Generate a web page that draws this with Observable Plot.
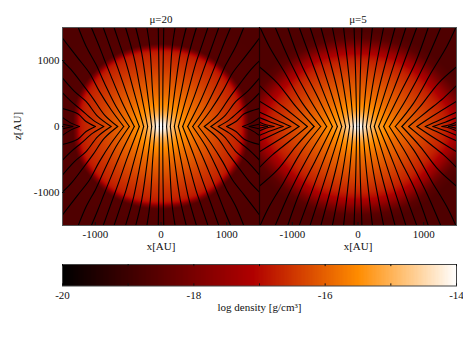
<!DOCTYPE html>
<html><head><meta charset="utf-8">
<script src="https://cdn.jsdelivr.net/npm/d3@7"></script>
<script src="https://cdn.jsdelivr.net/npm/@observablehq/plot@0.6"></script>
<style>html,body{margin:0;padding:0;background:#fff}svg{display:block}</style>
</head><body><div id="c"></div>
<script>
const panels = ["μ=20", "μ=5"];
const colorStops = [-20, -17.1, -15.5, -14];
const colorHex = ["#000000", "#b00000", "#ff8c00", "#ffffff"];
const xTicks = [-1000, 0, 1000];
const zTicks = [-1000, 0, 1000];
const barTicks = [-20, -18, -16, -14];
const barMinor = [-20, -19, -18, -17, -16, -15, -14];

// angle from midplane (deg), and where the core edge lies at that angle (AU)
const angles = [0, 10, 20, 30, 40, 50, 60, 70, 80, 90];
const edge20 = [1250, 1260, 1262, 1245, 1225, 1215, 1200, 1185, 1172, 1166];
const edge5 = [1500, 1430, 1330, 1260, 1220, 1190, 1170, 1140, 1120, 1110];
// log density against radius as fraction of the edge
const frac20 = [0, 0.03, 0.07, 0.1, 0.15, 0.22, 0.3, 0.42, 0.58, 0.75, 0.92, 0.97, 1.0, 1.03, 1.07, 1.5];
const rho20 = [-13.9, -14.0, -14.3, -14.55, -14.95, -15.3, -15.55, -15.85, -16.12, -16.42, -16.68, -16.82, -17.05, -17.9, -18.6, -18.7];
const frac5 = [0, 0.03, 0.07, 0.1, 0.15, 0.22, 0.3, 0.42, 0.58, 0.75, 0.9, 0.97, 1.05, 1.12, 1.2, 1.3];
const rho5 = [-13.9, -14.05, -14.4, -14.6, -14.95, -15.3, -15.55, -15.85, -16.12, -16.42, -16.72, -16.98, -17.45, -18.0, -18.5, -18.7];

// field lines in one quadrant, flat x,z pairs in AU
const lines20 = [
 [25,0, 30,760, 42,1500],
 [85,0, 127,507, 167,1166, 215,1500],
 [142,0, 213,558, 294,1115, 385,1500],
 [203,0, 314,558, 416,1065, 540,1500],
 [264,0, 406,507, 532,963, 619,1217, 715,1500],
 [330,0, 507,456, 649,862, 760,1166, 880,1500],
 [406,0, 598,380, 760,760, 872,1039, 963,1268, 1060,1500],
 [482,0, 684,304, 862,659, 989,938, 1141,1217, 1260,1500],
 [568,0, 760,254, 938,532, 1090,811, 1268,1039, 1445,1268, 1521,1369],
 [659,0, 862,177, 1039,431, 1191,634, 1369,862, 1521,1014],
 [760,0, 963,152, 1141,380, 1318,532, 1521,760],
 [872,0, 1039,101, 1217,254, 1369,380, 1521,532],
 [999,0, 1141,76, 1268,193, 1521,279],
 [1242,0, 1369,51, 1521,152],
 [1343,0, 1521,41]
];
const lines5 = [
 [20,0, 35,760, 60,1500],
 [71,0, 127,659, 220,1500],
 [127,0, 238,710, 390,1500],
 [188,0, 340,659, 565,1500],
 [248,0, 441,608, 730,1500],
 [314,0, 542,558, 895,1500],
 [390,0, 644,507, 872,963, 1070,1500],
 [477,0, 745,431, 1024,963, 1260,1500],
 [568,0, 847,355, 1126,836, 1354,1217, 1490,1500],
 [669,0, 948,304, 1227,659, 1520,920],
 [771,0, 1050,228, 1303,431, 1520,640],
 [897,0, 1126,152, 1520,395],
 [1024,0, 1227,91, 1520,228],
 [1141,0, 1328,66, 1520,142],
 [1278,0, 1404,25, 1520,76],
 [1379,0, 1520,30]
];

const font = {fontFamily: "'Liberation Serif', serif", fontSize: "11px", color: "#111", background: "transparent"};
const color = {type: "linear", domain: colorStops, range: colorHex, clamp: true};

// look up the read tables at the centre of every image pixel
function field(panel, edge, frac, rho) {
  const edgeAt = d3.scaleLinear(angles, edge).clamp(true);
  const rhoAt = d3.scaleLinear(frac, rho).clamp(true);
  const rows = [], n = 197, step = 3000 / n;
  for (let i = 0; i < n; i++) for (let j = 0; j < 198; j++) {
    const x = -1500 + (i + 0.5) * step, z = -1500 + (j + 0.5) * 3000 / 198;
    const a = Math.atan2(Math.abs(z), Math.abs(x)) * 180 / Math.PI;
    rows.push({panel, x, z, v: rhoAt(Math.hypot(x, z) / edgeAt(a))});
  }
  return rows;
}
function traces(panel, lines) {
  const rows = [];
  lines.forEach((flat, k) => {
    for (const [sx, sz] of [[1,1],[-1,1],[1,-1],[-1,-1]]) {
      const id = `${panel}-${k}-${sx}-${sz}`;
      for (let i = 0; i < flat.length; i += 2)
        rows.push({panel, id, x: sx * flat[i], z: sz * flat[i + 1]});
    }
  });
  return rows;
}
const grid = [...field(panels[0], edge20, frac20, rho20), ...field(panels[1], edge5, frac5, rho5)];
const traced = [...traces(panels[0], lines20), ...traces(panels[1], lines5)];

const main = Plot.plot({
  width: 463, height: 258,
  marginLeft: 62, marginRight: 7, marginTop: 27, marginBottom: 33,
  style: font,
  x: {domain: [-1500, 1500], label: null},
  y: {domain: [-1500, 1500], label: null},
  fx: {domain: panels, padding: 0, label: null},
  color,
  marks: [
    Plot.raster(grid, {x: "x", y: "z", fill: "v", fx: "panel",
      x1: -1500, x2: 1500, y1: -1500, y2: 1500, pixelSize: 1}),
    Plot.line(traced, {x: "x", y: "z", z: "id", fx: "panel", stroke: "#000", strokeWidth: 1.1,
      curve: "catmull-rom", clip: true}),
    Plot.frame({stroke: "#555", strokeWidth: 1}),
    Plot.ruleX([1500], {fx: () => panels[0], stroke: "#1a0000", strokeWidth: 1.2}),
    Plot.axisFx({anchor: "top", tickSize: 0, tickPadding: 5, label: null}),
    Plot.axisX({anchor: "bottom", ticks: xTicks, tickFormat: d => String(d), tickSize: -3, tickPadding: 8, label: null, stroke: "#111"}),
    Plot.axisY({anchor: "left", ticks: zTicks, tickFormat: d => String(d), tickSize: -3, tickPadding: 6, label: null, stroke: "#111"}),
    Plot.text(panels, {fx: d => d, text: () => "x[AU]", frameAnchor: "bottom", dy: 24, clip: false})
  ]
});
d3.select(main).append("text")
  .attr("transform", "translate(18,126) rotate(-90)")
  .attr("text-anchor", "middle").attr("dominant-baseline", "middle")
  .attr("fill", "#111").text("z[AU]");

const barValues = d3.range(-20, -14, 0.02);
const bar = Plot.plot({
  width: 463, height: 90,
  marginLeft: 62, marginRight: 7, marginTop: 6, marginBottom: 62.5,
  style: font,
  x: {domain: [-20, -14], label: null},
  y: {domain: [0, 1], axis: null},
  color,
  marks: [
    Plot.rect(barValues, {x1: d => d, x2: d => d + 0.04, y1: 0, y2: 1, fill: d => d, shapeRendering: "crispEdges"}),
    Plot.frame({stroke: "#444", strokeWidth: 1}),
    Plot.ruleX(barMinor, {x: d => d, y1: 0, y2: 0.1, stroke: "#111"}),
    Plot.ruleX(barMinor, {x: d => d, y1: 0.9, y2: 1, stroke: "#111"}),
    Plot.axisX({anchor: "bottom", ticks: barTicks, tickFormat: d => String(d), tickSize: 0, tickPadding: 5, label: "log density [g/cm³]", labelAnchor: "center", labelArrow: "none", labelOffset: 25})
  ]
});
document.getElementById("c").append(main, bar);
</script>
</body></html>
